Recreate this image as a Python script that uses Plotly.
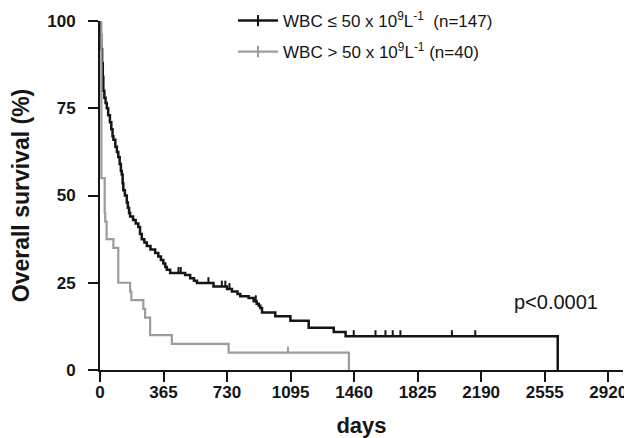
import numpy as np
import plotly.graph_objects as go

# Kaplan-Meier steps: time (days) -> survival (%)
low_days = [0, 3, 7, 12, 16, 19, 25, 32, 39, 47, 57, 65, 72, 77, 88, 97, 105, 113, 120, 125,
            130, 134, 143, 154, 160, 167, 173, 190, 205, 220, 230, 240, 255, 269, 290, 317, 335,
            350, 364, 375, 384, 403, 489, 518, 540, 557, 652, 730, 758, 790, 806, 854, 883, 900,
            912, 921, 931, 1007, 1094, 1199, 1343, 1411, 2630]
low_surv = [100, 96, 92, 88, 84, 80, 78, 76.5, 75, 73, 71, 69, 67, 66, 64, 62.5, 61, 59, 57, 56,
            53.5, 51.5, 50, 48, 46.5, 45, 44, 43, 42, 41, 39, 37.5, 36.5, 35.5, 34.5, 33.5, 32.5,
            31.5, 30.5, 29.5, 28.7, 27.8, 27.2, 26.3, 25.6, 24.9, 23.9, 23.2, 22.5, 21.8, 21.1, 20.6, 19.7, 19.0,
            18.4, 17.8, 16.5, 15.4, 14.1, 12.1, 10.9, 9.7, 0]
low_cens = [451, 464, 623, 700, 720, 744, 895, 1458, 1583, 1640, 1682, 1726, 2022, 2156]

hi_days = [0, 8, 27, 30, 38, 77, 105, 173, 180, 249, 259, 288, 413, 739, 1430]
hi_surv = [100, 55, 45, 42.5, 37.5, 35, 25, 22.5, 20, 17.5, 15, 10, 7.5, 5, 0]
hi_cens = [1080]

tick_days = [0, 365, 730, 1095, 1460, 1825, 2190, 2555, 2920]
tick_pct = [0, 25, 50, 75, 100]

low_name = "WBC \u2264 50 x 10<sup>9</sup>L<sup>-1</sup>\u00a0\u00a0(n=147)"
hi_name = "WBC > 50 x 10<sup>9</sup>L<sup>-1</sup> (n=40)"

BLACK = "#151515"
GREY = "#9c9c9c"
FONT = "Arial, Liberation Sans, sans-serif"

# page has an 8px body margin, so the figure is 8px smaller than the window
W, H = 624, 430
L, R, T, B = 92, 9, 13, 67.5
PH = H - T - B


def censor_marks(days, surv, cens, h=1.7):
    xs, ys = [], []
    for c in cens:
        i = np.searchsorted(days, c, side="right") - 1
        xs += [c, c, None]
        ys += [surv[i], surv[i] + h, None]
    return xs, ys


fig = go.Figure()
for days, surv, cens, col, w, name, grp in [
    (low_days, low_surv, low_cens, BLACK, 2.5, low_name, "a"),
    (hi_days, hi_surv, hi_cens, GREY, 2.2, hi_name, "b"),
]:
    fig.add_trace(go.Scatter(x=days, y=surv, mode="lines",
                             line=dict(color=col, width=w, shape="hv"), showlegend=False))
    cx, cy = censor_marks(days, surv, cens)
    fig.add_trace(go.Scatter(x=cx, y=cy, mode="lines", line=dict(color=col, width=2),
                             showlegend=False))
    # legend entry: line with a censor tick
    fig.add_trace(go.Scatter(x=[None], y=[None], mode="lines+markers", name=name,
                             legendgroup=grp,
                             line=dict(color=col, width=w),
                             marker=dict(symbol="line-ns", size=8,
                                         line=dict(color=col, width=2))))

fig.add_annotation(x=2620, y=19.6, text="p<0.0001", showarrow=False,
                   font=dict(family=FONT, size=20, color=BLACK))

axis_common = dict(showline=True, linecolor=BLACK, linewidth=2, ticks="outside",
                   ticklen=10, tickwidth=2, tickcolor=BLACK, showgrid=False, zeroline=False,
                   automargin=False,
                   tickfont=dict(family=FONT, size=17, color=BLACK, weight="bold"))

fig.update_layout(
    width=W, height=H,
    margin=dict(l=L, r=R, t=T, b=B, autoexpand=False),
    plot_bgcolor="white", paper_bgcolor="white",
    xaxis=dict(range=[0, 3005], tickvals=tick_days, ticklabelstandoff=-4,
               title=dict(text="days", standoff=19,
                          font=dict(family=FONT, size=22, color=BLACK, weight="bold")),
               **axis_common),
    yaxis=dict(range=[0, 100], tickvals=tick_pct, ticklabelstandoff=9,
               title=dict(text="Overall survival (%)", standoff=14,
                          font=dict(family=FONT, size=23, color=BLACK, weight="bold")),
               **axis_common),
    legend=dict(x=(225 - L) / (W - L - R), y=1 + (T + 5) / PH, itemwidth=40,
                xanchor="left", yanchor="top", bgcolor="rgba(0,0,0,0)",
                traceorder="grouped", tracegroupgap=6,
                font=dict(family=FONT, size=17, color=BLACK)),
    showlegend=True,
)

fig.write_html("out.html")
